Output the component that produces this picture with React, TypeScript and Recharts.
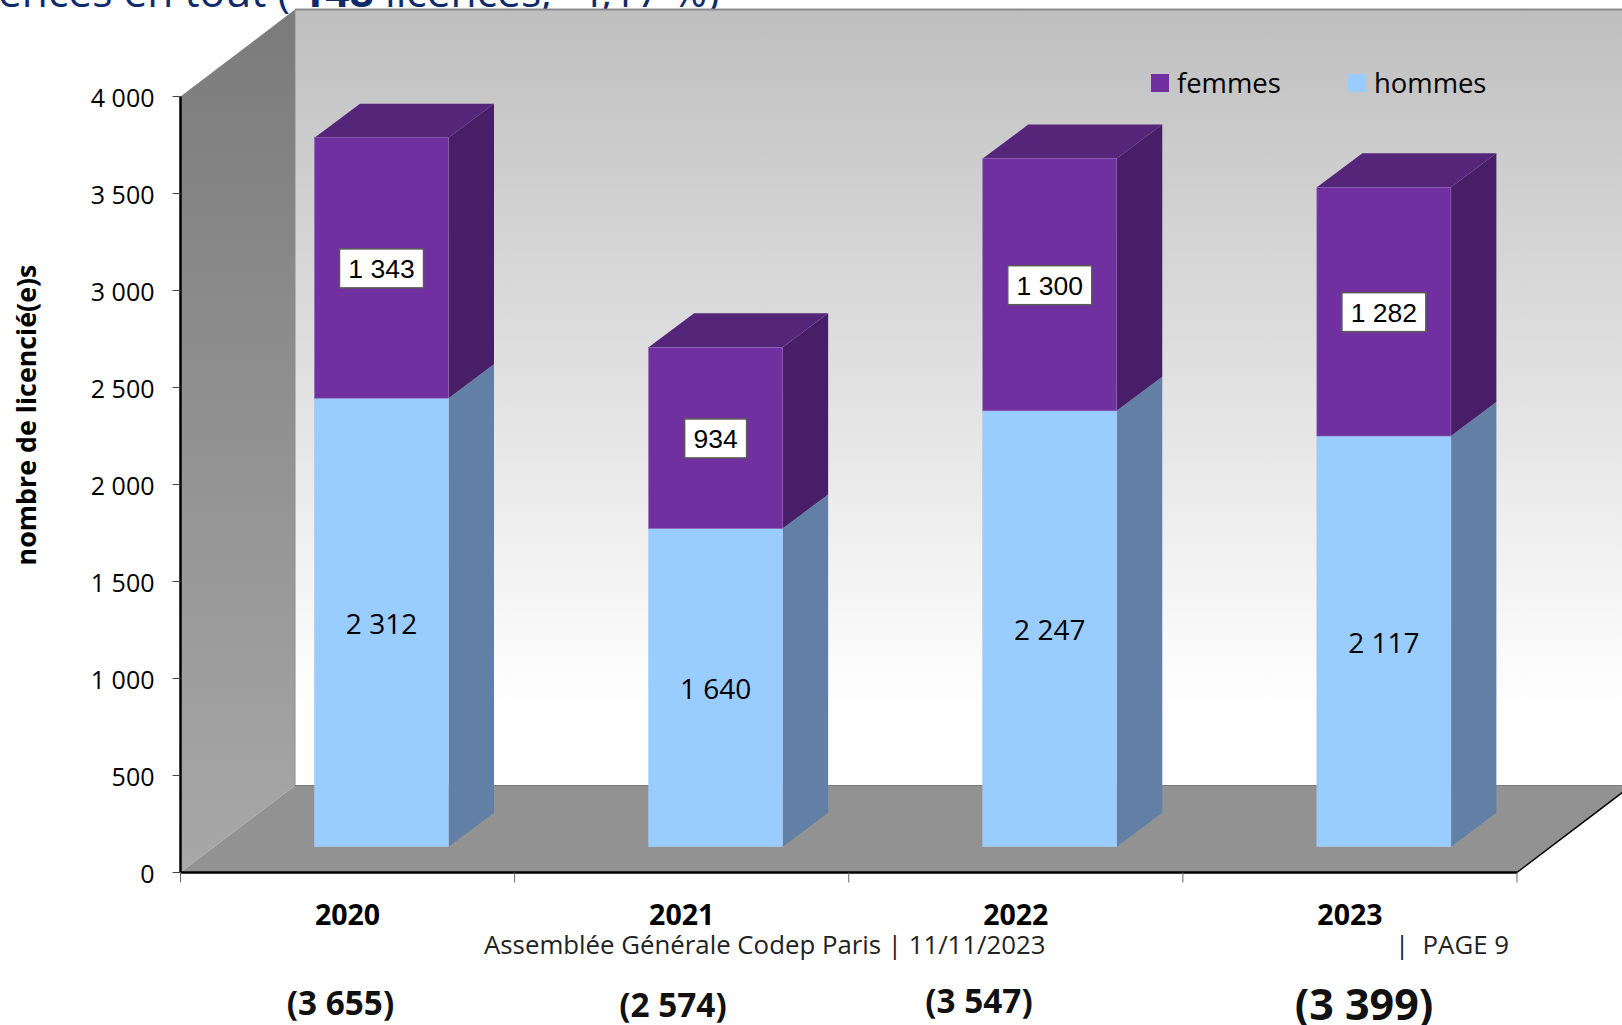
import { Bar, ComposedChart, LabelList, Legend, XAxis, YAxis } from "recharts";

const years = ["2020", "2021", "2022", "2023"];
const hommes = [2312, 1640, 2247, 2117];
const femmes = [1343, 934, 1300, 1282];
const totals = ["(3 655)", "(2 574)", "(3 547)", "(3 399)"];
const yTicks = [0, 500, 1000, 1500, 2000, 2500, 3000, 3500, 4000];

const chartData = years.map((year, i) => ({
	year,
	hommes: hommes[i],
	femmes: femmes[i],
}));

const WIDTH = 1622;
const HEIGHT = 1025;
const LEFT = 180.5;
const TOP = 96.5;
const BOTTOM = 872.5;
const RIGHT = 1517;
// depth of the box and of the bars, the bars stand a bit inside the box
const BOX_DX = 114.5;
const BOX_DY = 87;
const BAR_DX = 45.5;
const BAR_DY = 34;
const BAR_SHIFT_X = 34;
const BAR_SHIFT_Y = -25.8;
const BAND = (RIGHT - LEFT) / years.length;

const SANS = "'Open Sans', sans-serif";

const fr = (v: number) => String(v).replace(/\B(?=(\d{3})+$)/g, " ");

const colors: Record<string, { front: string; side: string; top: string; edge: string }> = {
	hommes: { front: "#99ccff", side: "#627fa5", top: "#7ba3cc", edge: "#a9c6ea" },
	femmes: { front: "#7030a0", side: "#481f66", top: "#542578", edge: "#8a63b4" },
};

function pts(list: number[][]) {
	return list.map((p) => p.join(",")).join(" ");
}

function makeBox(series: string) {
	const c = colors[series];
	return function Box(props: any) {
		const x = props.x + BAR_SHIFT_X;
		const y = props.y + BAR_SHIFT_Y;
		const w = props.width;
		const h = props.height;
		return (
			<g>
				<polygon
					points={pts([
						[x + w, y],
						[x + w + BAR_DX, y - BAR_DY],
						[x + w + BAR_DX, y + h - BAR_DY],
						[x + w, y + h],
					])}
					fill={c.side}
				/>
				{series === "femmes" && (
					<polygon
						points={pts([
							[x, y],
							[x + BAR_DX, y - BAR_DY],
							[x + w + BAR_DX, y - BAR_DY],
							[x + w, y],
						])}
						fill={c.top}
					/>
				)}
				<rect x={x} y={y} width={w} height={h} fill={c.front} stroke={c.edge} strokeWidth={0.6} />
			</g>
		);
	};
}

function segmentCenter(props: any) {
	const box = props.viewBox ?? props;
	return {
		cx: box.x + box.width / 2 + BAR_SHIFT_X,
		cy: box.y + box.height / 2 + BAR_SHIFT_Y,
	};
}

function PlainLabel(props: any) {
	const { cx, cy } = segmentCenter(props);
	return (
		<text x={cx} y={cy} dy={11.5} textAnchor="middle" fontFamily={SANS} fontSize={28} fill="#000">
			{fr(props.value)}
		</text>
	);
}

function BoxedLabel(props: any) {
	const { cx, cy } = segmentCenter(props);
	const boxW = props.value >= 1000 ? 84 : 62;
	return (
		<g>
			<rect x={cx - boxW / 2} y={cy - 19} width={boxW} height={39} fill="#fff" stroke="#595959" strokeWidth={1.5} />
			<text x={cx} y={cy} dy={10.5} textAnchor="middle" fontFamily="'Liberation Sans', sans-serif" fontSize={26.5} fill="#000">
				{fr(props.value)}
			</text>
		</g>
	);
}

function YearTick(props: any) {
	const { x, y, payload, index } = props;
	const isLast = index === years.length - 1;
	return (
		<g>
			<line x1={x - BAND / 2} x2={x - BAND / 2} y1={y} y2={y + 10} stroke="#666" strokeWidth={1} />
			{isLast && <line x1={x + BAND / 2} x2={x + BAND / 2} y1={y} y2={y + 10} stroke="#666" strokeWidth={1} />}
			<text x={x} y={y + 52} textAnchor="middle" fontFamily={SANS} fontWeight={700} fontSize={28.5} fill="#000">
				{payload.value}
			</text>
		</g>
	);
}

function YValue(props: any) {
	const { x, y, payload } = props;
	return (
		<text x={x} y={y} dy={10} textAnchor="end" fontFamily={SANS} fontSize={25} fill="#000">
			{fr(payload.value)}
		</text>
	);
}

function LegendBlock({ payload }: any) {
	return (
		<div style={{ display: "flex", fontFamily: SANS, fontSize: 27.4, color: "#000", lineHeight: "36px" }}>
			{(payload ?? []).map((item: any) => (
				<div key={item.value} style={{ display: "flex", alignItems: "center", width: 197 }}>
					<span style={{ width: 18, height: 18, background: item.color, marginRight: 8 }} />
					{item.value}
				</div>
			))}
		</div>
	);
}

const totalPlaces = [
	{ x: 340.5, y: 1015, size: 33.3 },
	{ x: 673, y: 1017, size: 33.3 },
	{ x: 979, y: 1012.5, size: 33.3 },
	{ x: 1364, y: 1020, size: 43 },
];

export default function App() {
	return (
		<div style={{ position: "absolute", left: 0, top: 0, width: WIDTH, height: HEIGHT, overflow: "hidden", background: "#fff" }}>
			<ComposedChart
				width={WIDTH}
				height={HEIGHT}
				data={chartData}
				margin={{ top: TOP, right: WIDTH - RIGHT, bottom: HEIGHT - BOTTOM - 60, left: 0 }}
			>
				<defs>
					<linearGradient id="backWall" x1="0" y1="0" x2="0" y2="1">
						<stop offset="0%" stopColor="#bfbfbf" />
						<stop offset="90%" stopColor="#ffffff" />
					</linearGradient>
					<linearGradient id="sideWall" x1="0" y1="0" x2="0" y2="1">
						<stop offset="0%" stopColor="#7b7b7b" />
						<stop offset="100%" stopColor="#a8a8a8" />
					</linearGradient>
				</defs>

				<text x={-2} y={7} fontFamily={SANS} fontSize={42.5} fill="#0f2b6b">
					ences en tout ( <tspan fontWeight={700}>148</tspan> licences; -4,17 %)
				</text>

				<rect x={LEFT + BOX_DX} y={TOP - BOX_DY} width={WIDTH} height={BOTTOM - TOP} fill="url(#backWall)" />
				<line x1={LEFT + BOX_DX} x2={WIDTH} y1={TOP - BOX_DY} y2={TOP - BOX_DY} stroke="#8c8c8c" strokeWidth={2} />
				<polygon
					points={pts([
						[LEFT, TOP],
						[LEFT + BOX_DX, TOP - BOX_DY],
						[LEFT + BOX_DX, BOTTOM - BOX_DY],
						[LEFT, BOTTOM],
					])}
					fill="url(#sideWall)"
				/>
				<line x1={LEFT + BOX_DX} x2={LEFT + BOX_DX} y1={TOP - BOX_DY} y2={BOTTOM - BOX_DY} stroke="#8c8c8c" strokeWidth={1} />
				<polygon
					points={pts([
						[LEFT, BOTTOM],
						[LEFT + BOX_DX, BOTTOM - BOX_DY],
						[RIGHT + BOX_DX, BOTTOM - BOX_DY],
						[RIGHT, BOTTOM],
					])}
					fill="#929292"
				/>
				<line x1={LEFT + BOX_DX} x2={WIDTH} y1={BOTTOM - BOX_DY} y2={BOTTOM - BOX_DY} stroke="#7a7a7a" strokeWidth={1} />
				<line x1={RIGHT} y1={BOTTOM} x2={RIGHT + BOX_DX} y2={BOTTOM - BOX_DY} stroke="#000" strokeWidth={1.5} />

				<XAxis
					dataKey="year"
					height={60}
					tick={YearTick}
					tickLine={false}
					tickSize={0}
					tickMargin={0}
					axisLine={{ stroke: "#000", strokeWidth: 2.5 }}
					interval={0}
				/>
				<YAxis
					type="number"
					domain={[0, 4000]}
					ticks={yTicks}
					width={LEFT}
					interval={0}
					tick={YValue}
					tickSize={8}
					tickMargin={18}
					tickLine={{ stroke: "#444" }}
					axisLine={{ stroke: "#000", strokeWidth: 2.5 }}
				/>

				<Bar dataKey="hommes" name="hommes" stackId="a" barSize={134} fill={colors.hommes.front} shape={makeBox("hommes")} isAnimationActive={false}>
					<LabelList dataKey="hommes" content={PlainLabel} />
				</Bar>
				<Bar dataKey="femmes" name="femmes" stackId="a" barSize={134} fill={colors.femmes.front} shape={makeBox("femmes")} isAnimationActive={false}>
					<LabelList dataKey="femmes" content={BoxedLabel} />
				</Bar>

				<Legend
					layout="horizontal"
					verticalAlign="middle"
					itemSorter={(item: any) => (item.value === "femmes" ? 0 : 1)}
					content={LegendBlock}
					wrapperStyle={{ left: 1151, top: 65, width: 400, bottom: "auto" }}
				/>

				<text
					x={28}
					y={415}
					transform="rotate(-90 28 415)"
					dy={8}
					textAnchor="middle"
					fontFamily={SANS}
					fontWeight={700}
					fontSize={26.8}
					fill="#000"
				>
					nombre de licencié(e)s
				</text>

				<text x={484} y={954} fontFamily={SANS} fontSize={25.8} fill="#222">
					Assemblée Générale Codep Paris | 11/11/2023
				</text>
				<text x={1395} y={954} fontFamily={SANS} fontSize={25.8} fill="#222" xmlSpace="preserve">
					|  PAGE 9
				</text>

				{totals.map((label, i) => (
					<text
						key={label}
						x={totalPlaces[i].x}
						y={totalPlaces[i].y}
						textAnchor="middle"
						fontFamily={SANS}
						fontWeight={700}
						fontSize={totalPlaces[i].size}
						fill="#111"
					>
						{label}
					</text>
				))}
			</ComposedChart>
		</div>
	);
}
